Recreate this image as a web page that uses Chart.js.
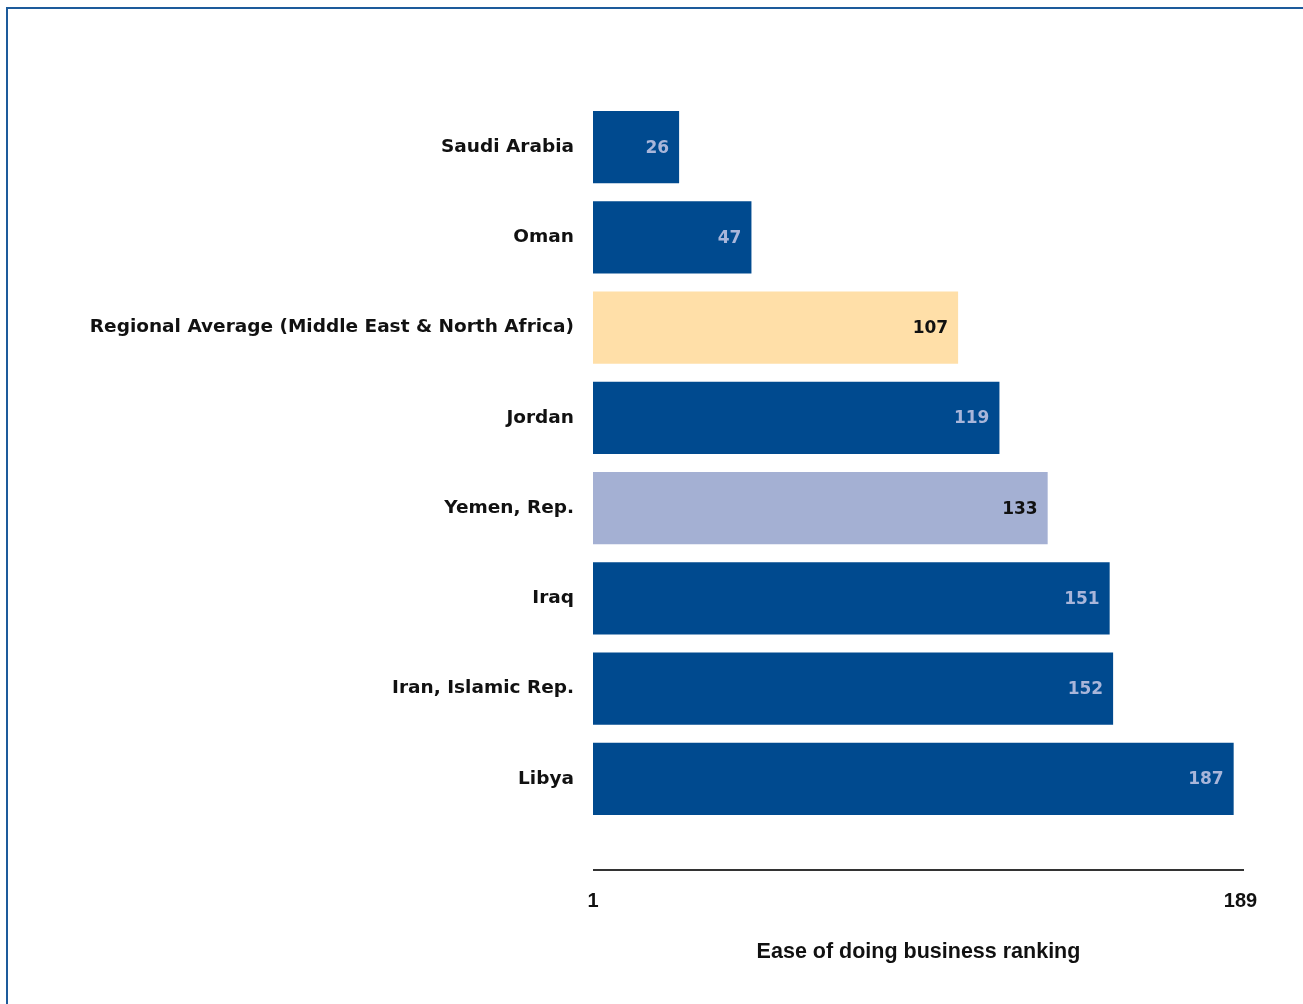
<!DOCTYPE html>
<html>
<head>
<meta charset="utf-8">
<script src="https://cdn.jsdelivr.net/npm/chart.js@4/dist/chart.umd.min.js"></script>
<style>
  html, body { margin: 0; padding: 0; background: #fff; overflow: hidden; }
  #frame { position: absolute; left: 6px; top: 7px; width: 1400px; height: 1100px;
           border-top: 2px solid #1d5b9b; border-left: 2px solid #1d5b9b; }
  #wrap { position: absolute; left: 0; top: 0; width: 1303px; height: 1004px; }
</style>
</head>
<body>
<div id="frame"></div>
<div id="wrap"><canvas id="grafica"></canvas></div>
<script>
// Datos del gráfico
const paises = [
  "Saudi Arabia",
  "Oman",
  "Regional Average (Middle East & North Africa)",
  "Jordan",
  "Yemen, Rep.",
  "Iraq",
  "Iran, Islamic Rep.",
  "Libya",
];
const ranking = [26, 47, 107, 119, 133, 151, 152, 187];
const ticksX = [1, 189];

// Colores: azul oscuro por defecto, promedio regional amarillo, Yemen lila
const colorBarra = ranking.map((v, i) =>
  i === 2 ? "#ffdfa8" : i === 4 ? "#a4b0d3" : "#004a8f"
);
const colorTexto = ranking.map((v, i) => (i === 2 || i === 4 ? "#111" : "#a9b6da"));

// Plugin para las etiquetas dentro de las barras y la línea del eje
const etiquetas = {
  id: "etiquetas",
  afterDatasetsDraw(chart) {
    const ctx = chart.ctx;
    const meta = chart.getDatasetMeta(0);
    ctx.save();
    ctx.font = "bold 17px 'DejaVu Sans'";
    ctx.textAlign = "right";
    ctx.textBaseline = "middle";
    meta.data.forEach((bar, i) => {
      ctx.fillStyle = colorTexto[i];
      ctx.fillText(String(ranking[i]), bar.x - 10, bar.y + 1);
    });
    // línea del eje x, separada de las barras
    const x = chart.scales.x;
    const y = chart.chartArea.bottom + 46;
    ctx.strokeStyle = "#333";
    ctx.lineWidth = 2;
    ctx.beginPath();
    ctx.moveTo(x.left, y);
    ctx.lineTo(x.right, y);
    ctx.stroke();
    ctx.restore();
  },
};

const config = {
  type: "bar",
  data: {
    labels: paises,
    datasets: [
      {
        data: ranking,
        backgroundColor: colorBarra,
        borderWidth: 0,
        barPercentage: 0.8,
        categoryPercentage: 1.0,
      },
    ],
  },
  options: {
    indexAxis: "y",
    responsive: true,
    maintainAspectRatio: false,
    animation: false,
    layout: { padding: { left: 10, right: 59, top: 102, bottom: 35 } },
    plugins: { legend: { display: false }, tooltip: { enabled: false } },
    scales: {
      x: {
        min: 1,
        max: 190,
        grid: { display: false, drawTicks: true, tickLength: 65 },
        border: { display: false },
        afterBuildTicks: (scale) => {
          scale.ticks = ticksX.map((v) => ({ value: v }));
        },
        afterFit: (scale) => {
          scale.height = 145;
          scale.paddingLeft = 0;
          scale.paddingRight = 0;
        },
        ticks: {
          padding: 0,
          maxRotation: 0,
          autoSkip: false,
          color: "#111",
          font: { family: "'Liberation Sans'", weight: "bold", size: 20 },
        },
        title: {
          display: true,
          text: "Ease of doing business ranking",
          color: "#111",
          padding: { top: 24, bottom: 4 },
          font: { family: "'Liberation Sans'", weight: "bold", size: 21.5 },
        },
      },
      y: {
        grid: { display: false },
        border: { display: false },
        afterFit: (scale) => {
          scale.width = 583;
        },
        ticks: {
          padding: 11,
          color: "#111",
          font: { family: "'DejaVu Sans'", weight: "bold", size: 18.5 },
        },
      },
    },
  },
  plugins: [etiquetas],
};

new Chart(document.getElementById("grafica").getContext("2d"), config);
</script>
</body>
</html>
